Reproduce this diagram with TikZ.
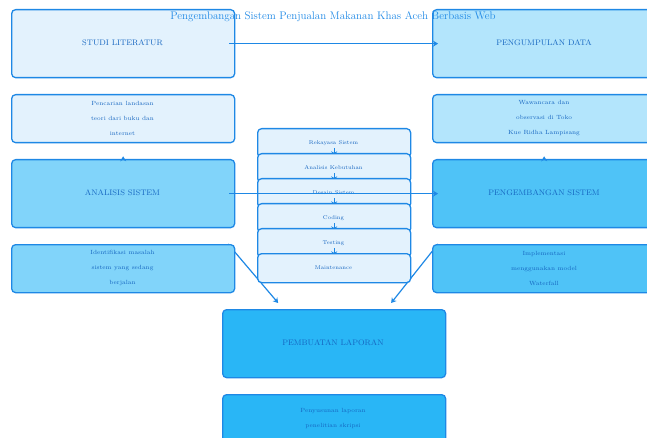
\documentclass[tikz,border=0pt]{standalone}
\usetikzlibrary{arrows.meta}
\definecolor{bord}{HTML}{1E88E5}
\definecolor{txt}{HTML}{1565C0}
\definecolor{cA}{HTML}{E3F2FD}
\definecolor{cB}{HTML}{B3E5FC}
\definecolor{cC}{HTML}{81D4FA}
\definecolor{cD}{HTML}{4FC3F7}
\definecolor{cE}{HTML}{29B6F6}
\tikzset{
  box/.style={draw=bord, line width=1.3pt, rounded corners=4pt, anchor=north west,
    minimum width=223pt, inner sep=0pt, text=txt, align=center},
  bigbox/.style={box, minimum height=68pt, font=\fontsize{8}{10}\selectfont},
  notebox/.style={box, minimum height=48pt, font=\fontsize{6}{15}\selectfont},
  stackbox/.style={draw=bord, line width=1.3pt, rounded corners=4pt, anchor=north west,
    minimum width=153pt, minimum height=29pt, inner sep=0pt, fill=cA, text=txt,
    font=\fontsize{5.5}{7}\selectfont},
  stacklbl/.style={text=txt, font=\fontsize{5.5}{7}\selectfont, inner sep=0pt},
  arr/.style={draw=bord, line width=1.2pt, -{Stealth[length=5pt,width=6pt]}},
  starr/.style={draw=bord, line width=1pt, -{Stealth[length=5pt,width=6pt]}},
}
\begin{document}
\begin{tikzpicture}[x=1pt,y=-1pt]
\useasboundingbox (0,0) rectangle (647,438);
\clip (0,0) rectangle (647,438);
% coordinates for diagonal connectors
\coordinate (dA) at (228,244);
\coordinate (dB) at (438,244);
% main boxes
\node[bigbox, fill=cA] (studi) at (11,9) {};
\node[bigbox, fill=cB] (kumpul) at (432,9) {};
\node[notebox, fill=cA] (penc) at (11,94) {};
\node[notebox, fill=cB] (wawan) at (432,94) {};
\node[bigbox, fill=cC] (anal) at (11,159) {};
\node[bigbox, fill=cD] (kemb) at (432,159) {};
\node[notebox, fill=cE] (lap2) at (222,394) {};
\node[bigbox, fill=cE] (lap) at (222,309) {};
% diagonal connectors (behind notes)
\draw[arr] (dA) -- ([xshift=-56pt,yshift=6pt]lap.north);
\draw[arr] (dB) -- ([xshift=57pt,yshift=6pt]lap.north);
\node[notebox, fill=cC] (iden) at (11,244) {};
\node[notebox, fill=cD] (impl) at (432,244) {};
% texts
\node[text=txt, font=\fontsize{8}{10}\selectfont] at (122.5,43) {STUDI LITERATUR};
\node[text=txt, font=\fontsize{8}{10}\selectfont] at (544,43) {PENGUMPULAN DATA};
\node[text=txt, font=\fontsize{8}{10}\selectfont] at (122.5,193) {ANALISIS SISTEM};
\node[text=txt, font=\fontsize{8}{10}\selectfont] at (544,193) {PENGEMBANGAN SISTEM};
\node[text=txt, font=\fontsize{8}{10}\selectfont] at (333,343) {PEMBUATAN LAPORAN};
\node[text=txt, align=center, font=\fontsize{6}{15}\selectfont] at (122.5,118) {Pencarian landasan\\teori dari buku dan\\internet};
\node[text=txt, align=center, font=\fontsize{6}{15}\selectfont] at (544,118) {Wawancara dan\\observasi di Toko\\Kue Ridha Lampisang};
\node[text=txt, align=center, font=\fontsize{6}{15}\selectfont] at (122.5,268) {Identifikasi masalah\\sistem yang sedang\\berjalan};
\node[text=txt, align=center, font=\fontsize{6}{15}\selectfont] at (544,268) {Implementasi\\menggunakan model\\Waterfall};
\node[text=txt, align=center, font=\fontsize{6}{15}\selectfont] at (333,418) {Penyusunan laporan\\penelitian skripsi};
% small up arrows
\draw[arr, shorten >=13pt] (anal.north) -- (penc.south);
\draw[arr, shorten >=13pt] (kemb.north) -- (wawan.south);
% waterfall stack (each arrow drawn before the next box covers its tip)
\node[stackbox] (s1) at (257,128) {};
\draw[starr] ([yshift=10pt]s1.south) -- ([yshift=2pt]s1.south);
\node[stackbox] (s2) at (257,153) {};
\draw[starr] ([yshift=10pt]s2.south) -- ([yshift=2pt]s2.south);
\node[stackbox] (s3) at (257,178) {};
\draw[starr] ([yshift=10pt]s3.south) -- ([yshift=2pt]s3.south);
\node[stackbox] (s4) at (257,203) {};
\draw[starr] ([yshift=10pt]s4.south) -- ([yshift=2pt]s4.south);
\node[stackbox] (s5) at (257,228) {};
\draw[starr] ([yshift=10pt]s5.south) -- ([yshift=2pt]s5.south);
\node[stackbox] (s6) at (257,253) {};
\node[stacklbl] at (333.5,143) {Rekayasa Sistem};
\node[stacklbl] at (333.5,168) {Analisis Kebutuhan};
\node[stacklbl] at (333.5,193) {Desain Sistem};
\node[stacklbl] at (333.5,218) {Coding};
\node[stacklbl] at (333.5,243) {Testing};
\node[stacklbl] at (333.5,268) {Maintenance};
% horizontal arrows
\draw[arr] ([xshift=-6pt]studi.east) -- ([xshift=6pt]kumpul.west);
\draw[arr] ([xshift=-6pt]anal.east) -- ([xshift=6pt]kemb.west);
% title
\node[text=bord, font=\fontsize{11}{13}\selectfont] (title) at (333,17) {Pengembangan Sistem Penjualan Makanan Khas Aceh Berbasis Web};
\end{tikzpicture}
\end{document}
